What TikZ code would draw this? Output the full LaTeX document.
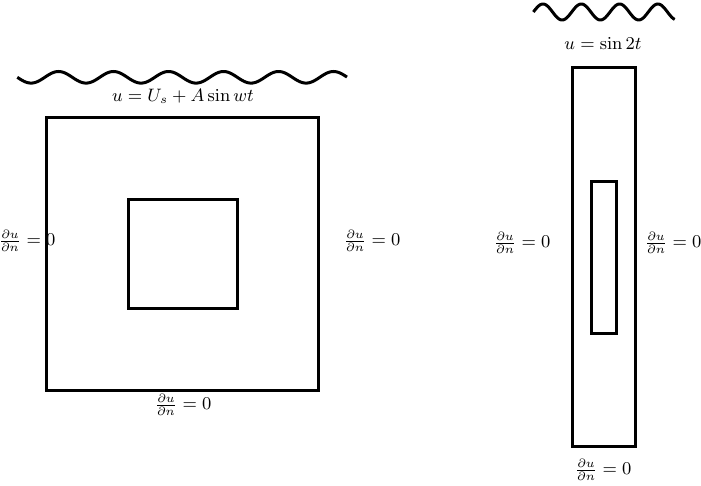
\documentclass[tikz,border=0pt]{standalone}
\usepackage{amsmath,amssymb}
\usepackage{tikz}

\begin{document}
\begin{tikzpicture}[
  x=0.5pt, y=-0.5pt,
  wall/.style={line width=1.5pt},
  wave/.style={line width=1.5pt, smooth, samples=200},
  lab/.style={inner sep=0pt, font=\fontsize{8.8}{11}\selectfont}
]
\useasboundingbox (0,0) rectangle (701,486);
% left domain
\draw[wall] (46,118) rectangle (318,390);
\draw[wall] (128,200) rectangle (237,308);
\draw[wave, domain=17.3:347] plot (\x, {77.3+5.8*sin(6.5455*(\x-17.3))});
\node[lab] (top1) at (183,96) {$u=U_s+A\sin wt$};
\node[lab] (left1) at (27,241) {$\frac{\partial u}{\partial n}=0$};
\draw[wall] (46,118) -- (46,390);
\node[lab] (right1) at (372,241) {$\frac{\partial u}{\partial n}=0$};
\node[lab] (bot1) at (183,405) {$\frac{\partial u}{\partial n}=0$};
% right domain
\draw[wall] (572,68) rectangle (635,446);
\draw[wall] (591,182) rectangle (616,333);
\draw[wave, domain=533.4:674.7] plot (\x, {12-8*sin(9.399*(\x-533.4))});
\node[lab] (top2) at (603,43) {$u=\sin 2t$};
\node[lab] (left2) at (522,243) {$\frac{\partial u}{\partial n}=0$};
\node[lab] (right2) at (673,243) {$\frac{\partial u}{\partial n}=0$};
\node[lab] (bot2) at (603,470) {$\frac{\partial u}{\partial n}=0$};
\end{tikzpicture}
\end{document}
